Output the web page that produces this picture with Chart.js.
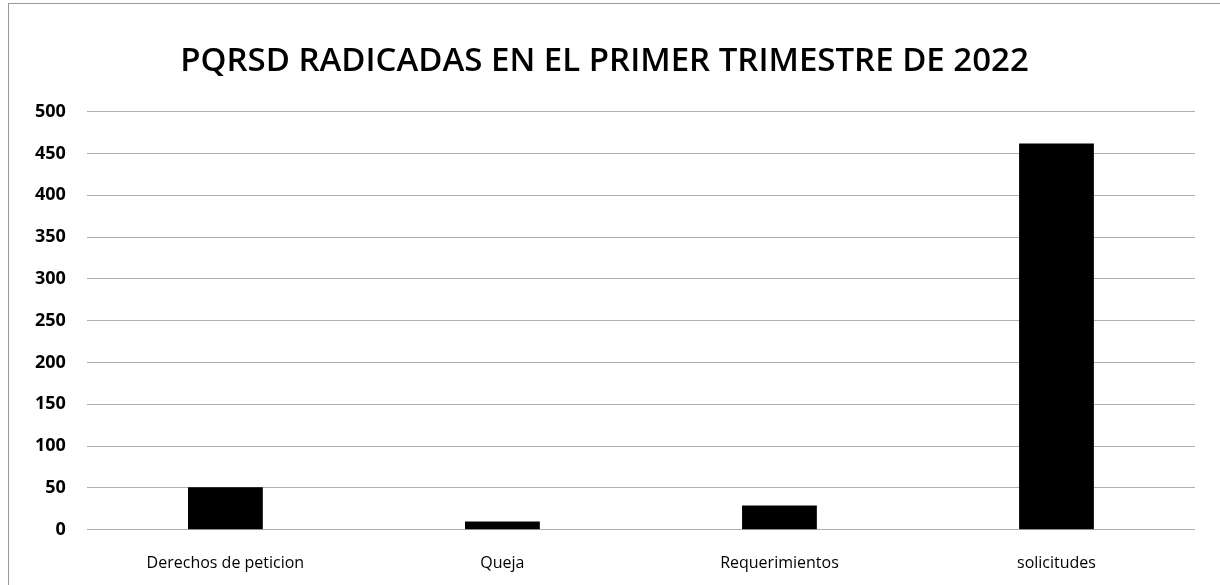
<!DOCTYPE html>
<html>
<head>
<meta charset="utf-8">
<script src="https://cdn.jsdelivr.net/npm/chart.js@4/dist/chart.umd.min.js"></script>
<style>
  html, body { margin: 0; padding: 0; background: #fff; }
  #wrap { position: relative; width: 1220px; height: 585px; }
  #frame { position: absolute; left: 8px; top: 3px; width: 1212px; height: 582px; border-left: 1px solid #9a9a9a; border-top: 1px solid #9a9a9a; box-sizing: border-box; }
</style>
</head>
<body>
<div id="wrap">
  <div id="frame"></div>
  <canvas id="chart" width="1220" height="585"></canvas>
</div>
<script>
const categories = ['Derechos de peticion', 'Queja', 'Requerimientos', 'solicitudes'];
const cantidades = [51, 10, 29, 462];
const tickValues = [0, 50, 100, 150, 200, 250, 300, 350, 400, 450, 500];

const fontFamily = '"Open Sans", sans-serif';

const ctx = document.getElementById('chart').getContext('2d');
new Chart(ctx, {
    type: 'bar',
    data: {
        labels: categories,
        datasets: [{
            data: cantidades,
            backgroundColor: '#000000',
            borderWidth: 0,
            categoryPercentage: 1,
            barPercentage: 0.27
        }]
    },
    options: {
        responsive: false,
        animation: false,
        layout: { padding: { left: 14, right: 25, top: 42, bottom: -4 } },
        plugins: {
            legend: { display: false },
            tooltip: { enabled: false },
            title: {
                display: true,
                text: 'PQRSD RADICADAS EN EL PRIMER TRIMESTRE DE 2022',
                color: '#000',
                font: { family: fontFamily, size: 33, weight: 600 },
                padding: { top: 0, bottom: 30 }
            }
        },
        scales: {
            x: {
                grid: { display: false },
                border: { display: false },
                ticks: {
                    color: '#000',
                    font: { family: fontFamily, size: 16 },
                    padding: 16,
                    maxRotation: 0
                }
            },
            y: {
                min: 0,
                max: 500,
                afterBuildTicks: axis => { axis.ticks = tickValues.map(v => ({ value: v })); },
                grid: { color: '#b0b0b0', lineWidth: 1, drawTicks: false },
                border: { display: false },
                ticks: {
                    color: '#000',
                    font: { family: fontFamily, size: 18, weight: 'bold' },
                    padding: 21
                }
            }
        }
    }
});
</script>
</body>
</html>
